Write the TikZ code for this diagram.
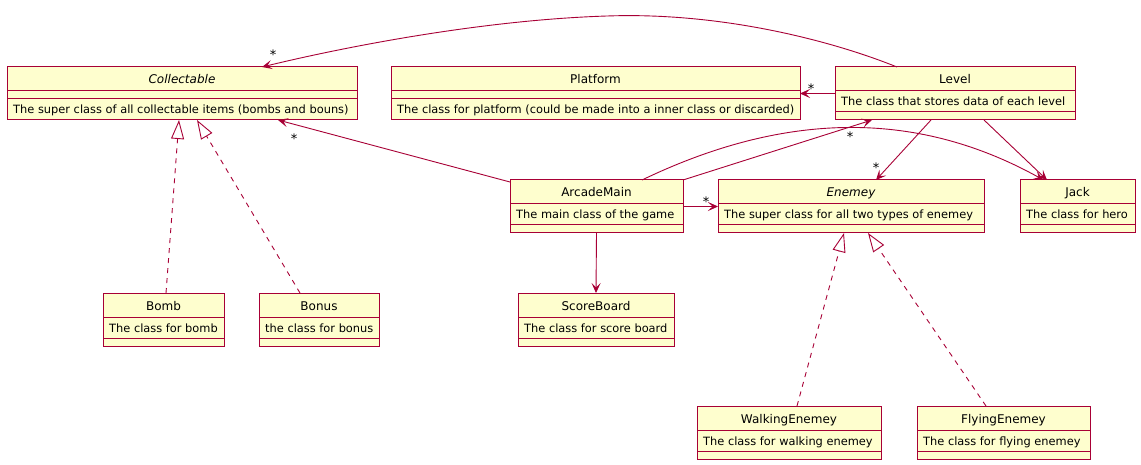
\documentclass[tikz,border=0pt]{standalone}
\usepackage{fontspec}
\setmainfont{DejaVu Sans}
\usetikzlibrary{arrows.meta}
\definecolor{umlborder}{HTML}{A80036}
\definecolor{umlfill}{HTML}{FEFECE}
\tikzset{
  classbox/.style={draw=umlborder, fill=umlfill, line width=1pt, rectangle, inner sep=0pt, outer sep=0pt},
  classline/.style={draw=umlborder, line width=1pt},
  titletext/.style={font=\fontsize{12}{14}\selectfont, inner sep=0pt},
  membertext/.style={font=\fontsize{11.4}{13}\selectfont, inner sep=0pt},
  assoc/.style={draw=umlborder, line width=0.9pt, -{Stealth[length=10pt,width=9pt,inset=4.5pt]}},
  realize/.style={draw=umlborder, line width=0.9pt, dash pattern=on 5pt off 5pt, -{Triangle[open,length=19pt,width=13pt,fill=white]}},
  mult/.style={font=\fontsize{13}{15}\selectfont, inner sep=0pt},
}
\newcommand\umlclass[7]{%
  \pgfmathsetmacro\ucx{(#2+#4)/2}%
  \pgfmathsetmacro\ucy{#3+26.5}%
  \pgfmathsetmacro\uw{#4-#2}%
  \pgfmathsetmacro\usa{#3+24}%
  \pgfmathsetmacro\usb{#3+ifthenelse(#7==0,45,32)}%
  \pgfmathsetmacro\uty{#3+ifthenelse(#7==0,39,47)}%
  \pgfmathsetmacro\utx{#2+6}%
  \pgfmathsetmacro\utt{#3+17}%
  \node[classbox, minimum width=\uw pt, minimum height=53pt] (#1) at (\ucx,\ucy) {};
  \draw[classline] (#2,\usa) -- (#4,\usa);
  \draw[classline] (#2,\usb) -- (#4,\usb);
  \node[titletext, anchor=base] (#1-title) at (\ucx,\utt) {#5};
  \node[membertext, anchor=base west] (#1-text) at (\utx,\uty) {#6};
}
\begin{document}
\begin{tikzpicture}[x=1pt,y=-1pt]
\fill[white] (0,0) rectangle (1141,465);
\useasboundingbox (0,0) rectangle (1141,465);

\umlclass{Collectable}{7}{67}{357}{\itshape Collectable}{The super class of all collectable items (bombs and bouns)}{1}
\umlclass{Platform}{391}{67}{800}{Platform}{The class for platform (could be made into a inner class or discarded)}{1}
\umlclass{Level}{835}{67}{1075}{Level}{The class that stores data of each level}{0}
\umlclass{ArcadeMain}{510}{180}{683}{ArcadeMain}{The main class of the game}{0}
\umlclass{Enemey}{718}{180}{984}{\itshape Enemey}{The super class for all two types of enemey}{0}
\umlclass{Jack}{1020}{180}{1135}{Jack}{The class for hero}{0}
\umlclass{Bomb}{103}{293}{224}{Bomb}{The class for bomb}{0}
\umlclass{Bonus}{259}{293}{379}{Bonus}{the class for bonus}{0}
\umlclass{ScoreBoard}{518}{293}{674}{ScoreBoard}{The class for score board}{0}
\umlclass{WalkingEnemey}{697}{406}{881}{WalkingEnemey}{The class for walking enemey}{0}
\umlclass{FlyingEnemey}{917}{406}{1090}{FlyingEnemey}{The class for flying enemey}{0}

% associations
\coordinate (arcTop) at (607,16);
\draw[assoc] ([xshift=-58pt]Level.north) .. controls (830,40) and (720,12) .. (arcTop)
  .. controls (480,20) and (340,48) .. ([xshift=80pt]Collectable.north);
\node[mult] (mA) at (273,55) {*};

\draw[assoc] (Level.west) -- (Platform.east);
\node[mult] (mB) at (811,89) {*};

\draw[assoc] ([yshift=-2pt]ArcadeMain.north west) -- ([xshift=96pt]Collectable.south);
\node[mult] (mC) at (294,139) {*};

\draw[assoc] (ArcadeMain.north east) -- ([xshift=-83pt]Level.south);
\node[mult] (mD) at (850,137) {*};

\draw[assoc] ([xshift=45.5pt]ArcadeMain.north) .. controls (802,103) and (932,118) .. ([xshift=-34pt]Jack.north);

\draw[assoc] ([xshift=-24pt]Level.south) -- ([xshift=25pt]Enemey.north);
\node[mult] (mE) at (876,168) {*};

\draw[assoc] ([xshift=29pt]Level.south) -- ([xshift=-30.5pt]Jack.north);

\draw[assoc] (ArcadeMain.east) -- (Enemey.west);
\node[mult] (mF) at (706,202) {*};

\draw[assoc] (ArcadeMain.south) -- (ScoreBoard.north);

% realizations
\draw[realize] ([xshift=2.5pt]Bomb.north) -- ([xshift=-3pt]Collectable.south);
\draw[realize] ([xshift=-19pt]Bonus.north) -- ([xshift=15pt]Collectable.south);
\draw[realize] ([xshift=8pt]WalkingEnemey.north) -- ([xshift=-7pt]Enemey.south);
\draw[realize] ([xshift=-17.5pt]FlyingEnemey.north) -- ([xshift=17pt]Enemey.south);
\end{tikzpicture}
\end{document}
